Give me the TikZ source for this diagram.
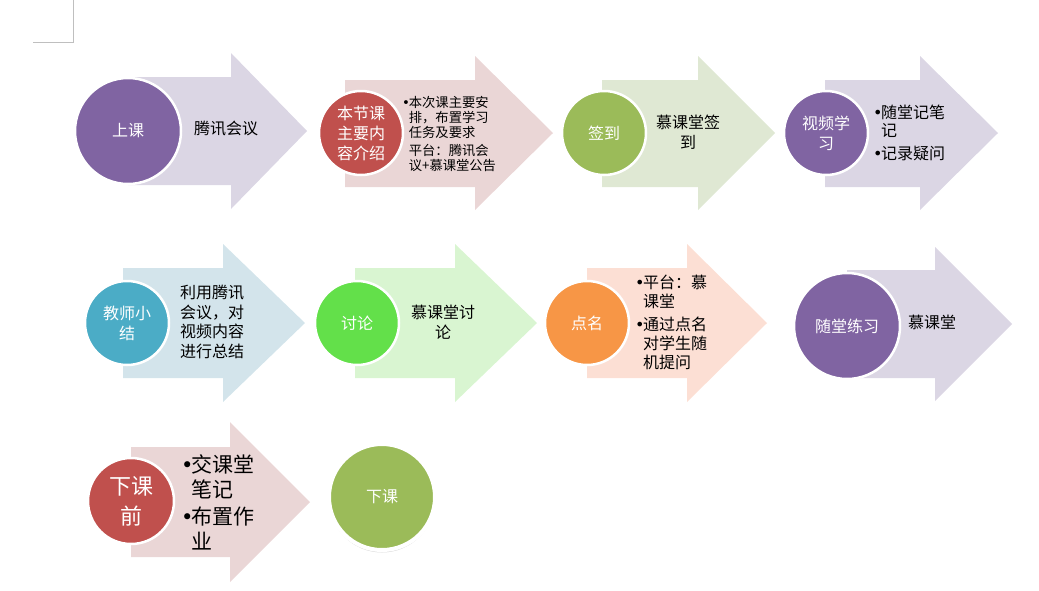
\documentclass[tikz,border=0pt]{standalone}
\usepackage{fontspec}
\setmainfont{Noto Sans CJK SC}
\newfontfamily\bulletfont{DejaVu Sans}
\usetikzlibrary{shadows}

\definecolor{purplecircle}{RGB}{128,100,162}
\definecolor{purplearrow}{RGB}{219,214,228}
\definecolor{redcircle}{RGB}{192,80,77}
\definecolor{redarrow}{RGB}{234,214,214}
\definecolor{greencircle}{RGB}{155,187,89}
\definecolor{greenarrow}{RGB}{223,232,211}
\definecolor{bluecircle}{RGB}{75,172,198}
\definecolor{bluearrow}{RGB}{211,228,235}
\definecolor{limecircle}{RGB}{99,224,74}
\definecolor{limearrow}{RGB}{217,245,209}
\definecolor{orangecircle}{RGB}{247,150,70}
\definecolor{orangearrow}{RGB}{252,223,212}

\newcommand{\flowbullet}{\makebox[0.5em][l]{\bulletfont •}}
\newcommand{\flowindent}{\hspace*{0.5em}}

\tikzset{
  stagecircle/.style={circle, draw=white, line width=2.5pt, text=white, inner sep=0pt,
    minimum size=84pt, align=center, font=\fontsize{16}{20}\selectfont},
  bigcircle/.style={stagecircle, minimum size=106pt},
  arrowtext/.style={inner sep=0pt, text=black, align=left, font=\fontsize{16}{19.5}\selectfont},
  cornermark/.style={draw=black!25, line width=0.6pt}
}

\begin{document}
\begin{tikzpicture}[x=1pt,y=-1pt]
  \useasboundingbox (0,0) rectangle (1039,590);
  % Page corner
  \draw[cornermark] (73,0) -- (73,42) -- (33,42);

  % Arrows, row 1
  \fill[purplearrow] (128,77) -- (231,77) -- (231,53) -- (307,131) -- (231,209) -- (231,185) -- (128,185) -- cycle;
  \fill[redarrow] (345,80) -- (475,80) -- (475,56) -- (553,133) -- (475,210) -- (475,187) -- (345,187) -- cycle;
  \fill[greenarrow] (602,80) -- (698,80) -- (698,56) -- (775,133) -- (698,210) -- (698,187) -- (602,187) -- cycle;
  \fill[purplearrow] (825,80) -- (920,80) -- (920,56) -- (998,133) -- (920,210) -- (920,187) -- (825,187) -- cycle;
  % Arrows, row 2
  \fill[bluearrow] (123,268) -- (223,268) -- (223,244) -- (305,323) -- (223,402) -- (223,378) -- (123,378) -- cycle;
  \fill[limearrow] (355,268) -- (455,268) -- (455,244) -- (537,323) -- (455,402) -- (455,378) -- (355,378) -- cycle;
  \fill[orangearrow] (587,268) -- (687,268) -- (687,244) -- (767,323) -- (687,402) -- (687,378) -- (587,378) -- cycle;
  \fill[purplearrow] (847,270) -- (935,270) -- (935,247) -- (1012,324) -- (935,401) -- (935,378) -- (847,378) -- cycle;
  % Arrow, row 3
  \fill[redarrow] (131,447) -- (230,447) -- (230,422) -- (310,502) -- (230,582) -- (230,557) -- (131,557) -- cycle;

  % Circles
  \node[bigcircle, fill=purplecircle] (shangke) at (128,131) {上课};
  \node[stagecircle, fill=redcircle] (benjie) at (361,133) {本节课\\主要内\\容介绍};
  \node[stagecircle, fill=greencircle] (qiandao) at (604,133) {签到};
  \node[stagecircle, fill=purplecircle] (shipin) at (826,133) {视频学\\习};
  \node[stagecircle, fill=bluecircle] (xiaojie) at (127,323) {教师小\\结};
  \node[stagecircle, fill=limecircle] (taolun) at (357,323) {讨论};
  \node[stagecircle, fill=orangecircle] (dianming) at (587,323) {点名};
  \node[bigcircle, fill=purplecircle] (lianxi) at (847,326) {随堂练习};
  \node[stagecircle, fill=redcircle, minimum size=86pt, font=\fontsize{22}{30}\selectfont] (kehouqian) at (131,501) {下课\\前};
  \node[bigcircle, fill=greencircle, line width=4pt,
    drop shadow={shadow xshift=0pt, shadow yshift=-2.5pt, opacity=0.3}] (xiake) at (382,497) {下课};

  % Texts
  \node[arrowtext] (shangketext) at (226,129) {腾讯会议};
  \node[arrowtext, anchor=west, font=\fontsize{13.3}{15}\selectfont] (benjietext) at (402,134)
    {\flowbullet 本次课主要安\\ \flowindent 排，布置学习\\ \flowindent 任务及要求\\[3pt]
     \flowindent 平台：腾讯会\\ \flowindent 议+慕课堂公告};
  \node[arrowtext, align=center] (qiandaotext) at (688,132) {慕课堂签\\到};
  \node[arrowtext, anchor=west, font=\fontsize{16}{18}\selectfont] (shipintext) at (873,133)
    {\flowbullet 随堂记笔\\ \flowindent 记\\[5pt] \flowbullet 记录疑问};
  \node[arrowtext] (xiaojietext) at (212,322) {利用腾讯\\会议，对\\视频内容\\进行总结};
  \node[arrowtext, align=center] (taoluntext) at (443,322) {慕课堂讨\\论};
  \node[arrowtext, anchor=west, font=\fontsize{16}{19}\selectfont] (dianmingtext) at (635,322)
    {\flowbullet 平台：慕\\ \flowindent 课堂\\[4pt] \flowbullet 通过点名\\ \flowindent 对学生随\\ \flowindent 机提问};
  \node[arrowtext] (lianxitext) at (932,322) {慕课堂};
  \node[arrowtext, anchor=west, font=\fontsize{21}{25}\selectfont] (kehouqiantext) at (181,502)
    {\flowbullet 交课堂\\ \flowindent 笔记\\[2pt] \flowbullet 布置作\\ \flowindent 业};
\end{tikzpicture}
\end{document}
